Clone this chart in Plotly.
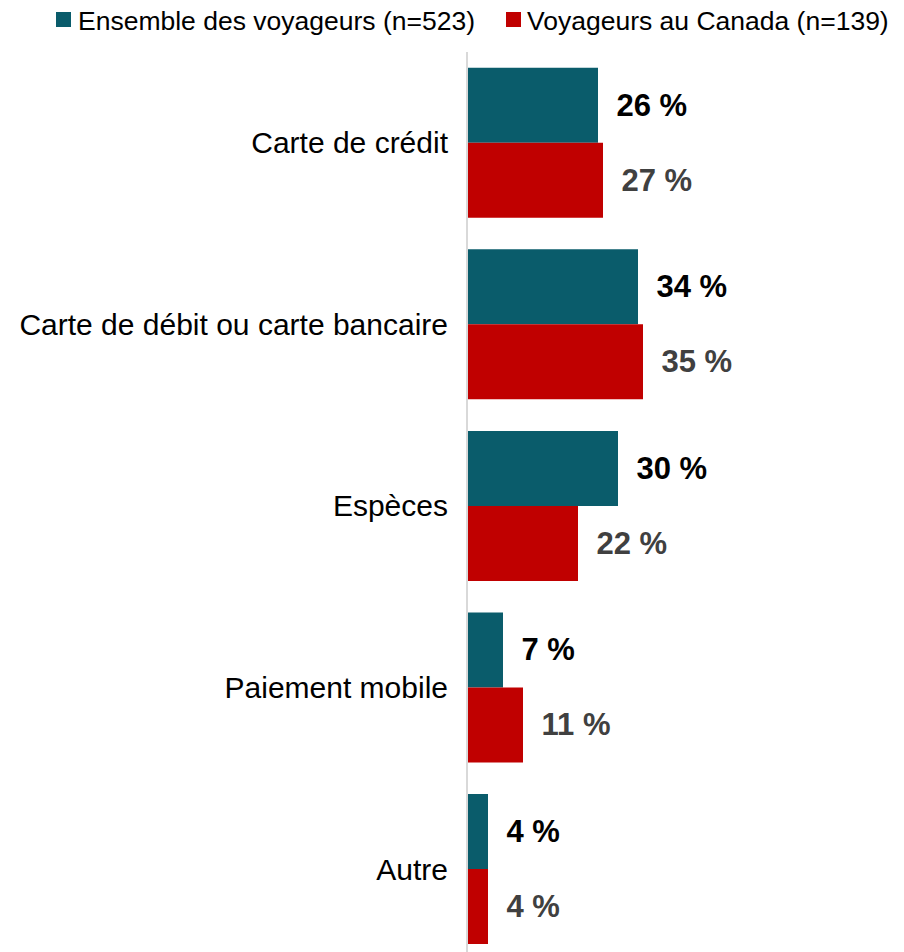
import plotly.graph_objects as go

categories = ["Carte de crédit", "Carte de débit ou carte bancaire", "Espèces", "Paiement mobile", "Autre"]
series_names = ["Ensemble des voyageurs (n=523)", "Voyageurs au Canada (n=139)"]
ensemble = [26, 34, 30, 7, 4]
canada = [27, 35, 22, 11, 4]

colors = ["#0a5c6b", "#c00000"]
label_colors = ["#000000", "#404040"]

OFF = 8  # default page body margin
W, H = 904 - OFF, 952 - OFF
L, R, T, B = 468 - OFF, 4, 52 - OFF, 0
pw = W - L - R
ph = H - T - B

def px(x):
    return (x - OFF - L) / pw

def py(y):
    return (H - B - (y - OFF)) / ph

fig = go.Figure()
for name, vals, c, lc in zip(series_names, [ensemble, canada], colors, label_colors):
    fig.add_trace(go.Bar(
        y=categories, x=vals, orientation="h", name=name,
        marker=dict(color=c, line=dict(width=0)),
        text=[f"\u2002{v} %" for v in vals],
        textposition="outside", cliponaxis=False,
        textfont=dict(family="Liberation Sans, Arial, sans-serif", size=31, color=lc),
        texttemplate="<b>%{text}</b>",
        hoverinfo="skip",
    ))

# custom legend
legend_pos = [(56, 76), (506, 525)]
for (sx, tx), name, c in zip(legend_pos, series_names, colors):
    fig.add_shape(type="rect", xref="paper", yref="paper",
                  x0=px(sx), x1=px(sx + 15), y0=py(27), y1=py(12),
                  fillcolor=c, line=dict(width=0))
    fig.add_annotation(xref="paper", yref="paper", x=px(tx), y=py(21),
                       xanchor="left", yanchor="middle", text=name, showarrow=False,
                       font=dict(family="Liberation Sans, Arial, sans-serif", size=26.5, color="#000000"))

fig.update_layout(
    width=W, height=H,
    margin=dict(l=L, r=R, t=T, b=B),
    barmode="group", bargap=0.174, bargroupgap=0,
    plot_bgcolor="white", paper_bgcolor="white",
    showlegend=False,
    font=dict(family="Liberation Sans, Arial, sans-serif", color="#000000"),
)
fig.update_xaxes(range=[0, pw / 5], showgrid=False, zeroline=False, showticklabels=False, showline=False)
fig.update_yaxes(categoryorder="array", categoryarray=categories,
                 range=[len(categories) - 1 + 0.457, -0.5],
                 showgrid=False, zeroline=False, showline=True, linecolor="#d9d9d9", linewidth=2,
                 ticks="", ticklabelstandoff=12,
                 tickfont=dict(family="Liberation Sans, Arial, sans-serif", size=30, color="#000000"))

fig.write_html("out.html")
